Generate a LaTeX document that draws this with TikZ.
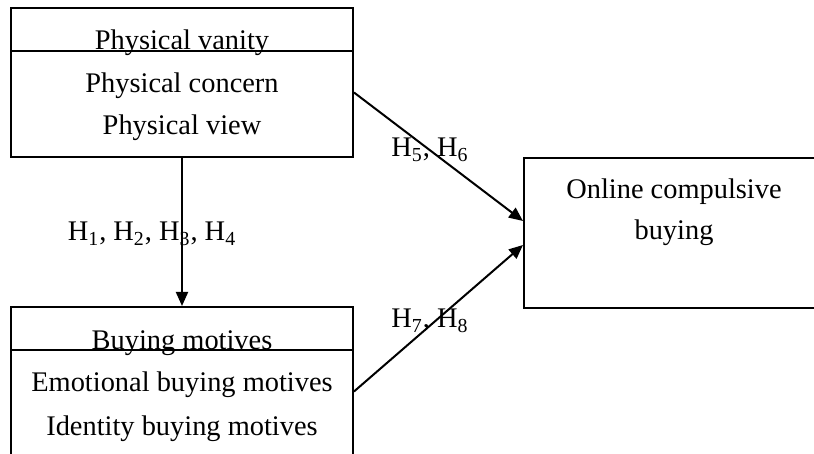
\documentclass[tikz,border=0pt]{standalone}
\usepackage{fontspec}
\setmainfont{Liberation Serif}
\usetikzlibrary{arrows.meta,positioning}

\begin{document}
\begin{tikzpicture}[
        x=0.5pt, y=-0.5pt,
        line width=1pt,
        every node/.style={font=\fontsize{14.2pt}{17pt}\selectfont, inner sep=0pt},
        box/.style={draw, rectangle},
        txt/.style={anchor=base},
        link/.style={-{Triangle[length=7pt,width=6pt]}}
    ]
    \useasboundingbox (0,0) rectangle (814,454);
    \clip (0,0) rectangle (814,454);

    % boxes
    \node (vanity)  [box, minimum width=171pt, minimum height=74.5pt] at (182,82.5)  {};
    \node (motives) [box, minimum width=171pt, minimum height=76.5pt] at (182,383.5) {};
    \node (online)  [box, minimum width=153pt, minimum height=75pt]   at (677,233)   {};
    \draw ([yshift=-21.8pt]vanity.north west) -- ([yshift=-21.8pt]vanity.north east);
    \draw ([yshift=-22pt]motives.north west)  -- ([yshift=-22pt]motives.north east);

    % box texts
    \node (vanityhead)  [txt] at (182,50)  {Physical vanity};
    \node (concern)     [txt] at (182,93)  {Physical concern};
    \node (view)        [txt] at (182,135) {Physical view};
    \node (motiveshead) [txt] at (182,350) {Buying motives};
    \node (emotional)   [txt] at (182,392) {Emotional buying motives};
    \node (identity)    [txt] at (182,435) {Identity buying motives};
    \node (onlinea)     [txt] at (674,199) {Online compulsive};
    \node (onlineb)     [txt] at (674,240) {buying};

    % hypotheses
    \node (h14) [txt] at (152,241) {H\textsubscript{1}, H\textsubscript{2}, H\textsubscript{3}, H\textsubscript{4}};
    \node (h56) [txt] at (430,157) {H\textsubscript{5}, H\textsubscript{6}};
    \node (h78) [txt] at (430,328) {H\textsubscript{7}, H\textsubscript{8}};

    % paths
    \draw [link] (vanity) -- (motives);
    \draw [link] ([yshift=-5pt]vanity.east)  -- ([yshift=6pt]online.west);
    \draw [link] ([yshift=-4pt]motives.east) -- ([yshift=-6pt]online.west);
\end{tikzpicture}
\end{document}
